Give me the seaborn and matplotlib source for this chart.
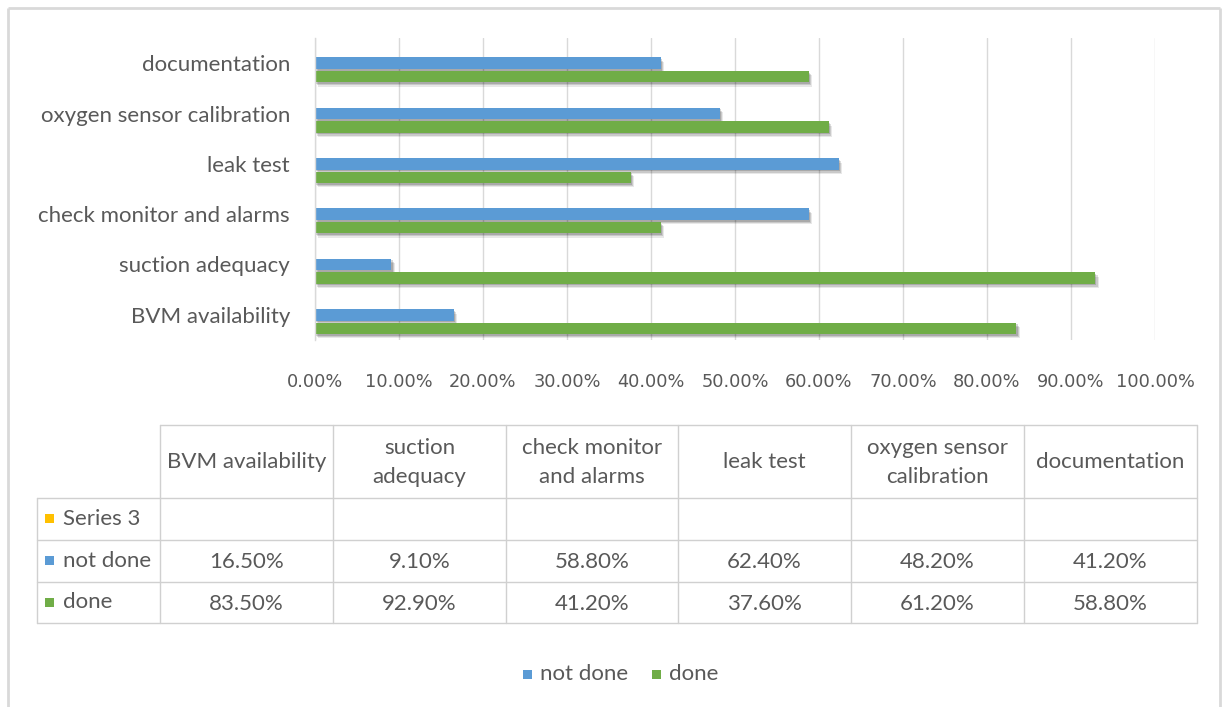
import numpy as np
import pandas as pd
import seaborn as sns
import matplotlib
matplotlib.use("Agg")
import matplotlib.pyplot as plt
import matplotlib.patheffects as pe
from matplotlib.patches import Rectangle

# ---- data -------------------------------------------------------------
categories = ["BVM availability", "suction adequacy", "check monitor and alarms",
              "leak test", "oxygen sensor calibration", "documentation"]
header_labels = ["BVM availability", "suction\nadequacy", "check monitor\nand alarms",
                 "leak test", "oxygen sensor\ncalibration", "documentation"]
series3 = [np.nan, np.nan, np.nan, np.nan, np.nan, np.nan]
not_done = [16.5, 9.1, 58.8, 62.4, 48.2, 41.2]
done = [83.5, 92.9, 41.2, 37.6, 61.2, 58.8]
series_names = ["Series 3", "not done", "done"]
series_colors = ["#FFC000", "#5B9BD5", "#70AD47"]
x_ticks = np.arange(0, 101, 10)

# ---- style ------------------------------------------------------------
W, H = 1227, 707
TEXT = "#595959"
LINE = "#D9D9D9"
FS = 16
sns.set_theme(style="white")
plt.rcParams["font.family"] = ["Lato", "DejaVu Sans"]

rows = []
for name, vals in zip(series_names, [series3, not_done, done]):
    for c, v in zip(categories, vals):
        rows.append({"category": c, "series": name, "value": v})
df = pd.DataFrame(rows)

fig = plt.figure(figsize=(W / 100, H / 100), dpi=100)


def px_rect(l, t, r, b):
    return [l / W, 1 - b / H, (r - l) / W, (b - t) / H]


# overlay in pixel coordinates for frame, data table and legend
ov = fig.add_axes([0, 0, 1, 1], zorder=0)
ov.set_xlim(0, W)
ov.set_ylim(H, 0)
ov.axis("off")

ax = fig.add_axes(px_rect(315, 38, 1155, 340), zorder=1)
ax.patch.set_alpha(0)
sns.barplot(data=df, y="category", x="value", hue="series",
            order=categories[::-1], hue_order=series_names,
            palette=series_colors, saturation=1, width=0.8, gap=0.15,
            orient="h", errorbar=None, legend=False, ax=ax, linewidth=0)

# soft drop shadow built from a few faint offset copies
shadow = [pe.SimplePatchShadow(offset=(0.8, -1.2), shadow_rgbFace="black", alpha=0.16),
          pe.SimplePatchShadow(offset=(1.6, -2.2), shadow_rgbFace="black", alpha=0.13),
          pe.SimplePatchShadow(offset=(2.4, -3.2), shadow_rgbFace="black", alpha=0.09),
          pe.Normal()]
for p in ax.patches:
    p.set_path_effects(shadow)

ax.set_xlim(0, 100)
ax.set_ylim(5.5, -0.5)
ax.set_xticks(x_ticks)
ax.set_xticklabels([f"{v:.2f}%" for v in x_ticks], family="DejaVu Sans",
                   fontsize=12.8, color=TEXT)
ax.tick_params(axis="x", length=0, pad=24)
ax.tick_params(axis="y", length=0, pad=18, labelsize=FS, labelcolor=TEXT)
ax.set_xlabel("")
ax.set_ylabel("")
ax.xaxis.grid(True, color=LINE, linewidth=1)
ax.set_axisbelow(True)
for s in ["top", "right", "bottom"]:
    ax.spines[s].set_visible(False)
ax.spines["left"].set_color(LINE)
ax.spines["left"].set_linewidth(1)

# ---- outer frame --------------------------------------------------------
fk = dict(color=LINE, linewidth=2, solid_capstyle="butt")
ov.plot([8, 8], [8, H + 5], **fk)
ov.plot([8, 1220], [8, 8], **fk)
ov.plot([1220, 1220], [8, H + 5], **fk)

# ---- data table -----------------------------------------------------------
col_x = [160, 333, 506, 678, 851, 1024, 1197]
row_y = [425, 498, 540, 582, 623]
label_left = 37
tk = dict(color="#D0D0D0", linewidth=1)
ov.plot([col_x[0], col_x[-1]], [row_y[0], row_y[0]], **tk)
for y in row_y[1:]:
    ov.plot([label_left, col_x[-1]], [y, y], **tk)
ov.plot([label_left, label_left], [row_y[1], row_y[-1]], **tk)
for x in col_x:
    ov.plot([x, x], [row_y[0], row_y[-1]], **tk)

for i, lab in enumerate(header_labels):
    cx = (col_x[i] + col_x[i + 1]) / 2
    ov.text(cx, (row_y[0] + row_y[1]) / 2 + 1, lab, ha="center", va="center",
            fontsize=FS, color=TEXT, linespacing=1.6)

table_series = [series3, not_done, done]
for r, (name, color, vals) in enumerate(zip(series_names, series_colors, table_series)):
    cy = (row_y[r + 1] + row_y[r + 2]) / 2
    ov.add_patch(Rectangle((45, cy - 5), 9, 9, facecolor=color, edgecolor="none"))
    ov.text(63, cy, name, ha="left", va="center", fontsize=FS, color=TEXT)
    for i, v in enumerate(vals):
        if np.isnan(v):
            continue
        cx = (col_x[i] + col_x[i + 1]) / 2
        ov.text(cx, cy + 1, f"{v:.2f}%", ha="center", va="center",
                fontsize=FS, color=TEXT)

# ---- legend -----------------------------------------------------------------
leg_items = [("not done", series_colors[1], 523), ("done", series_colors[2], 652)]
for name, color, x0 in leg_items:
    ov.add_patch(Rectangle((x0, 670), 9, 9, facecolor=color, edgecolor="none"))
    ov.text(x0 + 17, 674, name, ha="left", va="center", fontsize=FS, color=TEXT)

fig.savefig("out.png", dpi=100, facecolor="white")
